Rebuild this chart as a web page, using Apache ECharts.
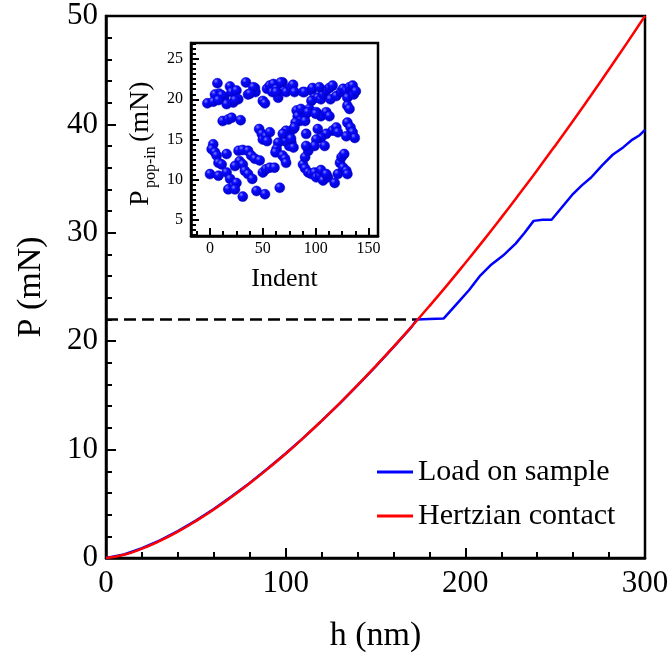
<!DOCTYPE html>
<html><head><meta charset="utf-8">
<script src="https://cdn.jsdelivr.net/npm/echarts@6/dist/echarts.min.js"></script>
<style>html,body{margin:0;padding:0;background:#fff}
#wrap{position:relative;width:672px;height:658px;background:#fff}
#c{position:absolute;left:0;top:0;width:672px;height:658px}
#inset{position:absolute;left:120px;top:30px;width:270px;height:270px}</style>
</head><body><div id="wrap"><div id="c"></div><div id="inset"></div></div>
<script>
// ---- main chart data ----
const hertzH = [0,10,20,30,40,50,60,70,80,90,100,110,120,130,140,150,160,170,180,190,200,210,220,230,240,250,260,270,280,290,300];
const hertzP = [0,0.3,0.86,1.58,2.43,3.4,4.47,5.64,6.89,8.22,9.62,11.1,12.65,14.26,15.94,17.68,19.47,21.33,23.24,25.2,27.22,29.28,31.4,33.57,35.78,38.04,40.34,42.69,45.09,47.52,50];
const loadH = [0,10,20,30,40,50,60,70,80,90,100,110,120,130,140,150,160,170,173,180,188,195,202,208,214,221,228,233,238,243,248,254,260,265,270,276,282,288,293,297,300];
const loadP = [0,0.32,0.9,1.62,2.48,3.45,4.52,5.69,6.93,8.25,9.64,11.1,12.65,14.25,15.93,17.66,19.45,21.3,22.0,22.05,22.1,23.4,24.7,26.0,27.0,27.9,29.0,30.0,31.1,31.2,31.2,32.4,33.6,34.4,35.1,36.2,37.2,37.9,38.6,39.0,39.5];
const thresholdH = [0,173];
const thresholdP = [22,22];
const seriesNames = ['Load on sample','Hertzian contact'];
// ---- inset data ----
const indentX = [7,8.8,4.7,-2.5,3,13.5,18.9,20.4,25,26.7,22,15.7,12,17.3,20.4,29,34,36,42.5,43,50,52,54,56.6,60,59,63,64.5,68.6,70,72,77,78.6,80,88,96,97,99,96,102,105,107,110,113,116,114,119.5,124,126,129,132,135,130,136,138,130,132,
 82,83,85,81,79,75,72,74,77,75,79,71,64.5,63,62,46.5,49,50,53,56.6,54,91,94,90,100.6,105,110,113,116,110,105,100.6,91,119.5,121,130,133,135,137,129,108.5,99,
 3,1.6,4.7,6.3,8,11,15.7,0,8,15.7,19,27,31,36,39,28,31,23.6,33,36,42.5,47,40,22,25,17.3,23.6,31,44,52,50,53,56.6,61,66,68.6,71,72,88,90,90,93,91,93,96,99,100.6,104,105,107,111.6,110,121,123,124.5,127,126,129,130,118,
 11,7.8,23.6,41,37.7,67,62.6,89.3,103.5,86,92.5,100,79.9,102,68.9,76.7];
const popInP = [22.0,20.7,20.6,19.5,19.7,20.3,21.6,20.9,21.1,20.0,19.6,19.4,17.3,17.5,17.7,17.4,22.1,20.6,21.4,20.9,19.8,19.5,21.3,21.7,21.9,20.9,21.3,20.2,22.1,21.1,20.9,21.5,21.8,20.9,20.9,21.1,21.4,20.2,19.8,20.2,20.0,20.6,21.1,21.4,21.7,20.0,20.4,20.9,21.3,21.1,21.5,21.7,20.2,20.6,21.0,19.2,18.8,
 18.6,17.9,17.3,17.1,16.3,15.7,16.1,15.2,14.6,14.2,14.0,14.8,14.6,13.8,13.4,16.3,15.7,15.0,15.4,15.9,14.8,18.2,18.8,17.3,18.4,17.9,18.4,17.9,16.1,15.7,15.2,15.0,15.7,16.5,15.9,17.1,16.5,15.9,15.2,15.4,14.2,14.2,
 14.4,13.8,13.4,13.0,12.1,11.9,13.2,10.7,10.5,10.9,10.1,13.6,13.7,13.6,13.0,12.3,11.9,11.7,11.1,10.7,12.6,12.4,10.1,9.2,9.6,8.8,8.8,7.9,8.6,8.2,10.9,11.3,11.5,11.5,9.0,13.0,12.6,12.1,11.9,11.4,12.8,13.6,14.2,10.9,10.7,10.9,10.3,10.5,11.2,9.9,10.3,10.7,10.7,12.1,12.8,13.2,11.5,11.1,10.7,9.6,
 20.5,19.9,19.9,21.5,20.7,22.1,20.9,20.9,21.5,18.8,18.4,18.2,16.5,16.3,15.7,15.1];
const insetXLabels = [0,50,100,150];
const insetYLabels = [5,10,15,20,25];

const FONT = '"Liberation Serif","Times New Roman",serif';
const insetXMinor = []; for (let v = -12.5; v <= 159; v += 12.5) insetXMinor.push(v);
const insetYMinor = []; for (let v = 3.125; v <= 27; v += 0.625) insetYMinor.push(+v.toFixed(3));
function ts(){ return {color:'#000', width:2}; }

// ---------- main chart ----------
const chart = echarts.init(document.getElementById('c'));
chart.setOption({
  animation:false,
  legend:{
    data:seriesNames, orient:'vertical', left:372, top:452, itemWidth:36, itemHeight:3, itemGap:14,
    icon:'rect',
    textStyle:{fontFamily:FONT, fontSize:30, color:'#000', lineHeight:30}
  },
  grid:{left:106, right:27, top:16, bottom:100, outerBoundsMode:'none', containLabel:false,
        show:true, borderColor:'#000', borderWidth:2.5},
  xAxis:{type:'value', min:0, max:300, interval:100, name:'h (nm)', nameLocation:'middle', nameGap:61,
     nameTextStyle:{fontFamily:FONT, fontSize:34, color:'#000'},
     axisTick:{show:true, inside:true, length:10, lineStyle:ts()},
     minorTick:{show:true, splitNumber:5, length:6, lineStyle:ts()},
     axisLine:{show:true, lineStyle:{color:'#000', width:2.5}},
     axisLabel:{fontFamily:FONT, fontSize:31, color:'#000', margin:10}, splitLine:{show:false}},
  yAxis:{type:'value', min:0, max:50, interval:10, name:'P (mN)', nameLocation:'middle', nameGap:58,
     nameTextStyle:{fontFamily:FONT, fontSize:34, color:'#000'},
     axisTick:{show:true, inside:true, length:10, lineStyle:ts()},
     minorTick:{show:true, splitNumber:5, length:6, lineStyle:ts()},
     axisLine:{show:true, lineStyle:{color:'#000', width:2.5}},
     axisLabel:{fontFamily:FONT, fontSize:31, color:'#000', margin:8}, splitLine:{show:false}},
  series:[
    {name:'threshold', type:'line', symbol:'none',
     data:thresholdH.map((h,i)=>[h,thresholdP[i]]),
     lineStyle:{color:'#000', width:2.5, type:[12,6]}, z:2},
    {name:seriesNames[0], type:'line', symbol:'none',
     data:loadH.map((h,i)=>[h,loadP[i]]), color:'#0000ff',
     lineStyle:{color:'#0000ff', width:2.5}, z:3},
    {name:seriesNames[1], type:'line', symbol:'none', smooth:true,
     data:hertzH.map((h,i)=>[h,hertzP[i]]), color:'#ff0000',
     lineStyle:{color:'#ff0000', width:2.5}, z:4}
  ]
});

// ---------- inset chart ----------
const inset = echarts.init(document.getElementById('inset'));
const ball = new echarts.graphic.RadialGradient(0.35, 0.3, 0.75, [
  {offset:0, color:'#8080ff'}, {offset:0.3, color:'#0a0aff'}, {offset:1, color:'#0000c0'}]);
inset.setOption({
  animation:false,
  grid:{left:71, top:13, width:187, height:193, outerBoundsMode:'none', show:true, borderColor:'#000', borderWidth:2.5},
  xAxis:[
    {type:'value', min:-18, max:159, position:'bottom', name:'Indent', nameLocation:'middle', nameGap:30,
     nameTextStyle:{fontFamily:FONT, fontSize:26, color:'#000'},
     axisLine:{show:true, onZero:false, lineStyle:{color:'#000', width:2.5}},
     axisTick:{show:true, inside:true, length:8, customValues:insetXLabels, lineStyle:ts()},
     axisLabel:{fontFamily:FONT, fontSize:16, color:'#000', margin:5, customValues:insetXLabels}, splitLine:{show:false}},
    {type:'value', min:-18, max:159, position:'bottom',
     axisLine:{show:false, onZero:false}, axisLabel:{show:false}, splitLine:{show:false},
     axisTick:{show:true, inside:true, length:5, customValues:insetXMinor, lineStyle:ts()}}
  ],
  yAxis:[
    {type:'value', min:3, max:27, position:'left',
     axisLine:{show:true, onZero:false, lineStyle:{color:'#000', width:2.5}},
     axisTick:{show:true, inside:true, length:8, customValues:insetYLabels, lineStyle:ts()},
     axisLabel:{fontFamily:FONT, fontSize:16, color:'#000', margin:8, customValues:insetYLabels}, splitLine:{show:false}},
    {type:'value', min:3, max:27, position:'left',
     axisLine:{show:false, onZero:false}, axisLabel:{show:false}, splitLine:{show:false},
     axisTick:{show:true, inside:true, length:5, customValues:insetYMinor, lineStyle:ts()}}
  ],
  graphic:[
    {type:'text', x:21, y:176, rotation:Math.PI/2, z:100,
     style:{text:'P', fontFamily:FONT, fontSize:28, fill:'#000', align:'left', verticalAlign:'middle'}},
    {type:'text', x:31, y:158, rotation:Math.PI/2, z:100,
     style:{text:'pop-in', fontFamily:FONT, fontSize:16, fill:'#000', align:'left', verticalAlign:'middle'}},
    {type:'text', x:21, y:112, rotation:Math.PI/2, z:100,
     style:{text:'(mN)', fontFamily:FONT, fontSize:28, fill:'#000', align:'left', verticalAlign:'middle'}}
  ],
  series:[
    {name:'pop-in', type:'scatter', xAxisIndex:0, yAxisIndex:0, symbolSize:10, z:10,
     data:indentX.map((x,i)=>[x,popInP[i]]),
     itemStyle:{color:ball, borderColor:'#0000d0', borderWidth:0.5, opacity:1}}
  ]
});
</script></body></html>
